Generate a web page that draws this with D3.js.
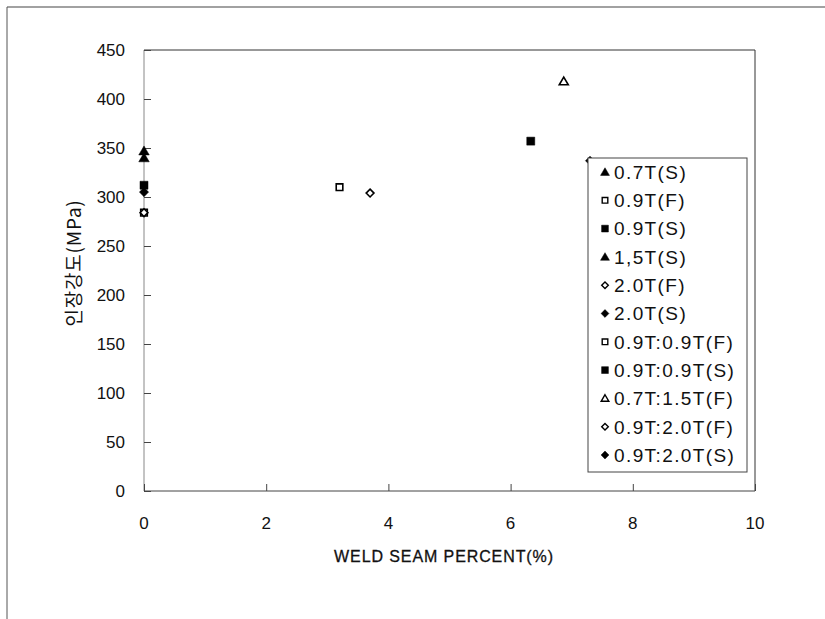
<!DOCTYPE html>
<html><head><meta charset="utf-8">
<script src="https://cdn.jsdelivr.net/npm/d3@7"></script>
<style>body{margin:0;background:#fff}svg{display:block}</style>
</head><body>
<svg id="c" width="825" height="619"></svg>
<script>
const seriesNames = ["0.7T(S)","0.9T(F)","0.9T(S)","1,5T(S)","2.0T(F)","2.0T(S)","0.9T:0.9T(F)","0.9T:0.9T(S)","0.7T:1.5T(F)","0.9T:2.0T(F)","0.9T:2.0T(S)"];
const weldPercent = [0, 0, 0, 0, 0, 0, 3.2, 6.33, 6.87, 3.7, 7.3];
const tensileMPa = [347, 284, 312, 340, 284, 305, 310, 357, 418, 304, 337];
const markerShape = ["triangle","square","square","triangle","diamond","diamond","square","square","triangle","diamond","diamond"];
const markerFilled = [true,false,true,true,false,true,false,true,false,false,true];
const xTicks = [0,2,4,6,8,10];
const yTicks = [0,50,100,150,200,250,300,350,400,450];
const xTitle = "WELD SEAM PERCENT(%)";
const yTitle = "인장강도(MPa)";

const svg = d3.select("#c");
const L=144, R=755, T=50, B=491;
const x = d3.scaleLinear().domain([0,10]).range([L,R]);
const y = d3.scaleLinear().domain([0,450]).range([B,T]);

// outer figure border
svg.append("line").attr("x1",7).attr("x2",825).attr("y1",7).attr("y2",7).attr("stroke","#444").attr("stroke-width",1.2);
svg.append("line").attr("x1",7).attr("x2",7).attr("y1",7).attr("y2",619).attr("stroke","#555").attr("stroke-width",1);

// plot frame
svg.append("line").attr("x1",L).attr("x2",R).attr("y1",T).attr("y2",T).attr("stroke","#333");
svg.append("line").attr("x1",R).attr("x2",R).attr("y1",T).attr("y2",B).attr("stroke","#333");
svg.append("line").attr("x1",L).attr("x2",R).attr("y1",B).attr("y2",B).attr("stroke","#444");
svg.append("line").attr("x1",L).attr("x2",L).attr("y1",T).attr("y2",B).attr("stroke","#888");

const font = "'Liberation Sans',Arial,sans-serif";

// y axis
const yAxis = d3.axisRight(y).tickValues(yTicks).tickSize(7).tickFormat("");
const gy = svg.append("g").attr("transform",`translate(${L},0)`).call(yAxis);
gy.select(".domain").remove();
gy.selectAll("line").attr("stroke","#444");
svg.append("g").selectAll("text").data(yTicks).join("text")
  .attr("x",125).attr("y",d=>y(d)).attr("dy","0.35em").attr("text-anchor","end")
  .attr("font-family",font).attr("font-size",17).attr("fill","#111")
  .text(d=>d);

// x axis
const xAxis = d3.axisTop(x).tickValues(xTicks).tickSize(7).tickFormat("");
const gx = svg.append("g").attr("transform",`translate(0,${B})`).call(xAxis);
gx.select(".domain").remove();
gx.selectAll("line").attr("stroke","#444");
svg.append("g").selectAll("text").data(xTicks).join("text")
  .attr("x",d=>x(d)).attr("y",523).attr("dy","0.35em").attr("text-anchor","middle")
  .attr("font-family",font).attr("font-size",17).attr("fill","#111")
  .text(d=>d);

// titles
svg.append("text").attr("x",444).attr("y",556).attr("dy","0.35em").attr("text-anchor","middle")
  .attr("font-family",font).attr("font-size",16).attr("fill","#111").attr("letter-spacing",0.9)
  .attr("stroke","#111").attr("stroke-width",0.3)
  .text(xTitle);
svg.append("text").attr("transform","translate(74,263) rotate(-90)").attr("text-anchor","middle")
  .attr("dy","0.35em").attr("font-family","'Noto Sans CJK KR',sans-serif").attr("font-size",19)
  .attr("letter-spacing",0.8).attr("fill","#111")
  .text(yTitle);

// marker shapes (size = half-width in px)
const shapes = {
  triangle: {draw(ctx, r){ ctx.moveTo(0,-r); ctx.lineTo(r*1.05,r*0.8); ctx.lineTo(-r*1.05,r*0.8); ctx.closePath(); }},
  square:   {draw(ctx, r){ ctx.rect(-r,-r,2*r,2*r); }},
  diamond:  {draw(ctx, r){ ctx.moveTo(0,-r); ctx.lineTo(r,0); ctx.lineTo(0,r); ctx.lineTo(-r,0); ctx.closePath(); }}
};
const half = {triangle:5, square:4, diamond:4.6};

const pts = seriesNames.map((n,i)=>({n, x:weldPercent[i], y:tensileMPa[i], s:markerShape[i], f:markerFilled[i]}));
svg.append("g").selectAll("path").data(pts).join("path")
  .attr("transform",d=>`translate(${x(d.x)},${y(d.y)})`)
  .attr("d",d=>d3.symbol(shapes[d.s], d.f?half[d.s]:half[d.s]-0.7)())
  .attr("fill",d=>d.f?"#000":"#fff").attr("stroke","#000").attr("stroke-width",d=>d.f?0.5:1.6);

// legend
const LX=588, LY=158, LW=159, LH=314;
const lg = svg.append("g");
lg.append("rect").attr("x",LX).attr("y",LY).attr("width",LW).attr("height",LH)
  .attr("fill","#fff").attr("stroke","#444").attr("stroke-width",1);
const rowY = i => 172 + i*28.3;
lg.selectAll("path").data(pts).join("path")
  .attr("transform",(d,i)=>`translate(605,${rowY(i)})`)
  .attr("d",d=>d3.symbol(shapes[d.s], d.f?half[d.s]*0.85:half[d.s]*0.85-0.6)())
  .attr("fill",d=>d.f?"#000":"#fff").attr("stroke","#000").attr("stroke-width",d=>d.f?0.5:1.4);
lg.selectAll("text").data(pts).join("text")
  .attr("x",614).attr("y",(d,i)=>rowY(i)).attr("dy","0.36em")
  .attr("font-family",font).attr("font-size",19).attr("letter-spacing",1.4).attr("fill","#111")
  .text(d=>d.n);
</script>
</body></html>
